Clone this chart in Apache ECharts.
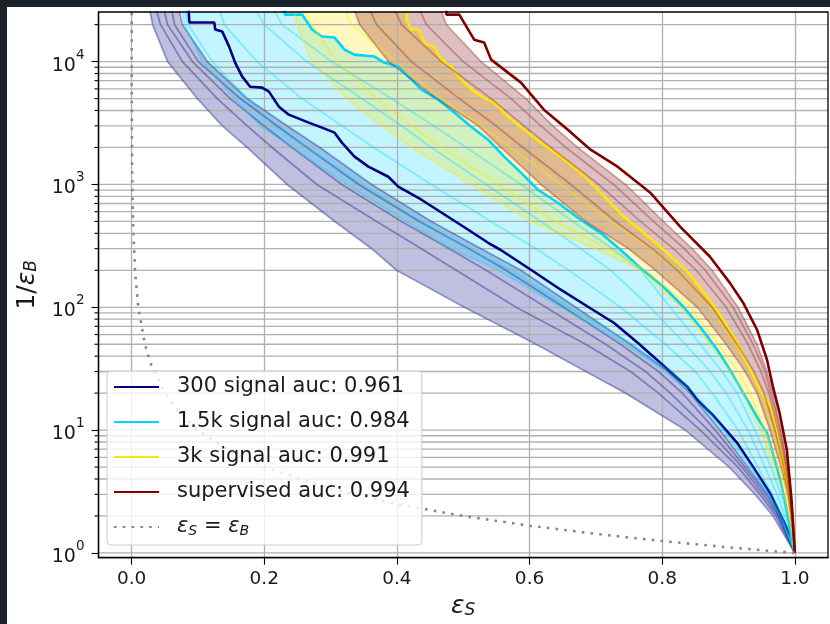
<!DOCTYPE html>
<html>
<head>
<meta charset="utf-8">
<script src="https://cdn.jsdelivr.net/npm/echarts@6/dist/echarts.min.js"></script>
<style>
  html, body { margin: 0; padding: 0; background: #1b2029; }
  #chart { position: absolute; left: 7px; top: 7px; width: 823px; height: 617px; background: #ffffff; }
</style>
</head>
<body>
<div id="chart"></div>
<script>
// Background rejection levels (1/eps_B) at which the individual runs and band edges are sampled
const rejLevels = [30000, 20000, 10000, 5000, 3000, 2000, 1000, 500, 300, 200, 100, 50, 30, 20, 10, 5, 3, 2, 1];

// 300 signal: spread of runs (signal efficiency at each level)
const p300Low  = [0.0255, 0.0315, 0.0541, 0.0991, 0.1366, 0.1742, 0.2342, 0.3063, 0.3619, 0.3994, 0.5015, 0.6096, 0.6847, 0.7447, 0.8348, 0.9009, 0.9399, 0.9670, 1];
const p300RunA = [0.0345, 0.0435, 0.0766, 0.1291, 0.1742, 0.2117, 0.2793, 0.3694, 0.4369, 0.4895, 0.5796, 0.6847, 0.7523, 0.7943, 0.8574, 0.9144, 0.9474, 0.9715, 1];
const p300RunB = [0.0465, 0.0541, 0.0916, 0.1486, 0.1997, 0.2417, 0.3168, 0.4069, 0.4790, 0.5345, 0.6246, 0.7147, 0.7748, 0.8123, 0.8694, 0.9204, 0.9520, 0.9745, 1];
const p300RunC = [0.0586, 0.0646, 0.1006, 0.1637, 0.2192, 0.2643, 0.3423, 0.4339, 0.5090, 0.5646, 0.6517, 0.7372, 0.7943, 0.8303, 0.8799, 0.9249, 0.9565, 0.9760, 1];
const p300High = [0.0691, 0.0766, 0.1141, 0.1742, 0.2342, 0.2838, 0.3619, 0.4520, 0.5270, 0.5871, 0.6697, 0.7523, 0.8093, 0.8423, 0.8874, 0.9294, 0.9595, 0.9775, 1];

// 1.5k signal runs
const c15Low  = [0.0736, 0.0796, 0.1066, 0.1547, 0.1937, 0.2417, 0.3243, 0.4144, 0.4820, 0.5526, 0.6471, 0.7447, 0.8048, 0.8423, 0.8904, 0.9324, 0.9595, 0.9775, 1];
const c15RunD = [0.0781, 0.0856, 0.1216, 0.1742, 0.2147, 0.2643, 0.3468, 0.4369, 0.5060, 0.5721, 0.6592, 0.7553, 0.8123, 0.8483, 0.8934, 0.9354, 0.9610, 0.9790, 1];
const c15RunA = [0.1291, 0.1396, 0.1892, 0.2568, 0.3168, 0.3649, 0.4520, 0.5420, 0.6096, 0.6592, 0.7372, 0.8048, 0.8498, 0.8754, 0.9144, 0.9444, 0.9655, 0.9805, 1];
const c15RunB = [0.1817, 0.1997, 0.2643, 0.3468, 0.4069, 0.4520, 0.5345, 0.6171, 0.6772, 0.7222, 0.7823, 0.8348, 0.8724, 0.8964, 0.9294, 0.9550, 0.9730, 0.9850, 1];
const c15RunC = [0.2087, 0.2267, 0.3018, 0.3919, 0.4550, 0.5045, 0.5871, 0.6652, 0.7252, 0.7673, 0.8123, 0.8574, 0.8904, 0.9129, 0.9399, 0.9640, 0.9790, 0.9895, 1];

// 3k signal runs
const y3kLow  = [0.2417, 0.2492, 0.2718, 0.3243, 0.3769, 0.4219, 0.5120, 0.6021, 0.6997, 0.7673, 0.8273, 0.8724, 0.9024, 0.9219, 0.9474, 0.9685, 0.9835, 0.9910, 1];
const y3kRunA = [0.2568, 0.2718, 0.3093, 0.3694, 0.4219, 0.4670, 0.5526, 0.6396, 0.7177, 0.7748, 0.8423, 0.8844, 0.9144, 0.9324, 0.9550, 0.9745, 0.9880, 0.9940, 1];
const y3kRunB = [0.3168, 0.3318, 0.3994, 0.4670, 0.5270, 0.5721, 0.6471, 0.7222, 0.7823, 0.8243, 0.8724, 0.9099, 0.9354, 0.9505, 0.9670, 0.9805, 0.9910, 0.9955, 1];

// supervised runs
const supLow  = [0.3318, 0.3438, 0.3874, 0.4595, 0.5225, 0.5571, 0.6171, 0.6847, 0.7492, 0.7898, 0.8529, 0.8964, 0.9249, 0.9429, 0.9625, 0.9790, 0.9895, 0.9940, 1];
const supRunA = [0.3544, 0.3694, 0.4219, 0.4940, 0.5495, 0.5901, 0.6622, 0.7297, 0.7853, 0.8228, 0.8754, 0.9129, 0.9384, 0.9535, 0.9700, 0.9835, 0.9910, 0.9955, 1];
const supRunB = [0.3919, 0.4069, 0.4670, 0.5420, 0.5916, 0.6321, 0.7042, 0.7673, 0.8168, 0.8514, 0.8964, 0.9294, 0.9489, 0.9610, 0.9745, 0.9865, 0.9925, 0.9962, 1];
const supRunC = [0.4294, 0.4444, 0.5000, 0.5721, 0.6171, 0.6547, 0.7267, 0.7868, 0.8333, 0.8649, 0.9069, 0.9369, 0.9550, 0.9640, 0.9775, 0.9880, 0.9932, 0.9970, 1];
const supHigh = [0.4625, 0.4745, 0.5270, 0.5946, 0.6351, 0.6727, 0.7447, 0.8018, 0.8453, 0.8754, 0.9144, 0.9429, 0.9580, 0.9670, 0.9790, 0.9895, 0.9940, 0.9970, 1];

// Headline ROC curves: [eps_S, 1/eps_B]
const roc300 = [[0.084, 40000], [0.087, 20800], [0.1246, 20800], [0.126, 18240], [0.1366, 17550], [0.147, 13250], [0.156, 9820], [0.1667, 7550], [0.1787, 6250], [0.1967, 6140], [0.207, 5700], [0.222, 4300], [0.237, 3700], [0.267, 3185], [0.287, 2900], [0.306, 2640], [0.317, 2190], [0.336, 1683], [0.357, 1396], [0.387, 1156], [0.402, 959], [0.437, 751], [0.477, 546], [0.5075, 428], [0.5375, 335], [0.556, 294], [0.602, 202], [0.647, 139], [0.688, 101], [0.727, 74.8], [0.763, 51.4], [0.797, 35.3], [0.838, 22.5], [0.853, 17.6], [0.875, 13.5], [0.913, 7.87], [0.937, 5.02], [0.9625, 3.08], [0.982, 1.86], [0.9955, 1.28], [1, 1]];
const roc1p5k = [[0.231, 40000], [0.231, 24150], [0.257, 24150], [0.272, 18240], [0.287, 16000], [0.306, 15700], [0.321, 12530], [0.336, 11400], [0.366, 11000], [0.381, 9820], [0.402, 9100], [0.422, 7130], [0.437, 5915], [0.4625, 4900], [0.4865, 3845], [0.512, 2954], [0.5375, 2315], [0.5616, 1683], [0.587, 1247], [0.6126, 906], [0.6426, 710], [0.677, 516], [0.707, 404], [0.737, 294], [0.767, 210], [0.802, 147], [0.832, 101], [0.857, 69.4], [0.883, 45.1], [0.902, 31], [0.922, 20.1], [0.943, 12.8], [0.958, 9.5], [0.973, 5.02], [0.985, 2.7], [0.9955, 1.28], [1, 1]];
const roc3k = [[0.4144, 40000], [0.4144, 22000], [0.422, 18240], [0.4324, 18240], [0.4414, 14290], [0.4565, 13000], [0.467, 10380], [0.482, 9100], [0.4925, 7550], [0.5075, 6260], [0.527, 5190], [0.5465, 4635], [0.5676, 3565], [0.5916, 2793], [0.617, 2190], [0.647, 1683], [0.677, 1247], [0.707, 857], [0.742, 546], [0.772, 404], [0.802, 294], [0.838, 195], [0.868, 122], [0.892, 79], [0.913, 51.4], [0.933, 31], [0.950, 20], [0.9655, 15], [0.973, 10], [0.979, 7], [0.985, 5], [0.991, 3], [0.9947, 2], [0.997, 1.5], [1, 1]];
const rocSup = [[0.4745, 40000], [0.4745, 24150], [0.494, 24150], [0.503, 20000], [0.5165, 15100], [0.5315, 14290], [0.542, 10380], [0.5616, 8610], [0.587, 6745], [0.6216, 4065], [0.6577, 2793], [0.692, 1920], [0.7327, 1396], [0.7665, 1000], [0.782, 857], [0.827, 453], [0.872, 258], [0.902, 158], [0.922, 109], [0.943, 65.6], [0.958, 37.4], [0.967, 22.5], [0.977, 13.8], [0.988, 6.9], [0.995, 2.7], [1, 1]];

// Random-classifier reference eps_S = eps_B
const randomRoc = [[0.00004, 25000], [0.0001, 10000], [0.0002, 5000], [0.0005, 2000], [0.001, 1000], [0.002, 500], [0.005, 200], [0.01, 100], [0.02, 50], [0.03, 33.3], [0.05, 20], [0.07, 14.3], [0.1, 10], [0.15, 6.67], [0.2, 5], [0.3, 3.33], [0.4, 2.5], [0.5, 2], [0.6, 1.667], [0.7, 1.429], [0.8, 1.25], [0.9, 1.111], [1, 1]];

// Axis ticks
const xTicks = [0, 0.2, 0.4, 0.6, 0.8, 1.0];
const yMajor = [1, 10, 100, 1000, 10000];
const yMinor = [2, 3, 4, 5, 6, 7, 8, 9, 20, 30, 40, 50, 60, 70, 80, 90, 200, 300, 400, 500, 600, 700, 800, 900,
                2000, 3000, 4000, 5000, 6000, 7000, 8000, 9000, 20000];

const names = ['300 signal auc: 0.961', '1.5k signal auc: 0.984', '3k signal auc: 0.991', 'supervised auc: 0.994', 'eps_line'];
const FONT = 'DejaVu Sans';
const TXT = '#1a1a1a';
const X_MIN = -0.05, X_MAX = 1.05;

const pairs = xs => xs.map((x, i) => [x, rejLevels[i]]);

function band(name, lower, upper, fill) {
  const pts = lower.concat(upper.slice().reverse());
  return {
    name, type: 'custom', z: 1, silent: true, clip: true,
    encode: { x: 0, y: 1 },
    data: [[0.5, 10]],
    renderItem: (params, api) => ({
      type: 'polygon',
      shape: { points: pts.map(p => api.coord(p)) },
      style: { fill }
    })
  };
}

function run(name, xs, color) {
  return {
    name, type: 'line', z: 2, silent: true, symbol: 'none', showSymbol: false,
    clip: true, data: pairs(xs), lineStyle: { color, width: 1.8 }
  };
}

function main(name, data, color) {
  return {
    name, type: 'line', z: 2, silent: true, symbol: 'none', showSymbol: false,
    clip: true, data, color, lineStyle: { color, width: 2.6 }
  };
}

const C300 = '#000080', C15 = '#00d4ff', C3K = '#ffe600', CSUP = '#800000';

const series = [
  band('band300', pairs(p300Low), pairs(p300High), 'rgba(0,0,128,0.25)'),
  band('band1p5k', pairs(c15Low), roc1p5k, 'rgba(0,212,255,0.24)'),
  band('band3k', pairs(y3kLow), roc3k, 'rgba(255,230,0,0.25)'),
  band('bandSup', pairs(supLow), pairs(supHigh), 'rgba(128,0,0,0.25)'),
  {
    // horizontal major + minor grid lines, and minor ticks on the left spine
    name: 'hgrid', type: 'custom', z: 1.5, silent: true, clip: false,
    encode: { x: 0, y: 1 },
    data: yMajor.concat(yMinor).map(v => [0, v]),
    renderItem: (params, api) => {
      const v = api.value(1);
      const a = api.coord([X_MIN, v]);
      const b = api.coord([X_MAX, v]);
      const children = [{
        type: 'line', shape: { x1: a[0], y1: a[1], x2: b[0], y2: b[1] },
        style: { stroke: '#b0b0b0', lineWidth: 1.3 }
      }];
      if (yMinor.indexOf(v) >= 0) {
        children.push({
          type: 'line', shape: { x1: a[0] - 4, y1: a[1], x2: a[0], y2: a[1] },
          style: { stroke: '#000', lineWidth: 1.1 }
        });
      }
      return { type: 'group', children };
    }
  },
  run('r300a', p300Low, 'rgba(0,0,128,0.35)'),
  run('r300b', p300RunA, 'rgba(0,0,128,0.35)'),
  run('r300c', p300RunB, 'rgba(0,0,128,0.35)'),
  run('r300d', p300RunC, 'rgba(0,0,128,0.35)'),
  run('r300e', p300High, 'rgba(0,0,128,0.35)'),
  main(names[0], roc300, C300),
  run('r15a', c15Low, 'rgba(0,212,255,0.35)'),
  run('r15b', c15RunD, 'rgba(0,212,255,0.35)'),
  run('r15c', c15RunA, 'rgba(0,212,255,0.35)'),
  run('r15d', c15RunB, 'rgba(0,212,255,0.35)'),
  run('r15e', c15RunC, 'rgba(0,212,255,0.35)'),
  main(names[1], roc1p5k, C15),
  run('r3a', y3kLow, 'rgba(255,230,0,0.4)'),
  run('r3b', y3kRunA, 'rgba(255,230,0,0.4)'),
  run('r3c', y3kRunB, 'rgba(255,230,0,0.4)'),
  main(names[2], roc3k, C3K),
  run('rsa', supLow, 'rgba(128,0,0,0.3)'),
  run('rsb', supRunA, 'rgba(128,0,0,0.3)'),
  run('rsc', supRunB, 'rgba(128,0,0,0.3)'),
  run('rsd', supRunC, 'rgba(128,0,0,0.3)'),
  run('rse', supHigh, 'rgba(128,0,0,0.3)'),
  main(names[3], rocSup, CSUP),
  {
    name: names[4], type: 'line', z: 2, silent: true, symbol: 'none', showSymbol: false,
    clip: true, data: randomRoc, color: '#888888',
    lineStyle: { color: '#888888', width: 2.6, type: [2.6, 6.2] }
  }
];

const axisNameRich = {
  i: { fontFamily: FONT, fontSize: 25, fontStyle: 'italic', color: TXT },
  s: { fontFamily: FONT, fontSize: 17, fontStyle: 'italic', color: TXT, verticalAlign: 'bottom', padding: [9, 0, 0, 0] }
};

const chart = echarts.init(document.getElementById('chart'), null, { renderer: 'canvas' });
chart.setOption({
  animation: false,
  backgroundColor: '#ffffff',
  grid: { left: 88, top: 5, right: 2, bottom: 66, show: true, z: 3,
          backgroundColor: 'transparent', borderColor: '#000', borderWidth: 1.3 },
  xAxis: {
    type: 'value', min: X_MIN, max: X_MAX, z: 1.5,
    axisLine: { show: true, onZero: false, lineStyle: { color: '#000', width: 1.3 } },
    axisTick: { show: true, customValues: xTicks, length: 7, lineStyle: { color: '#000', width: 1.1 } },
    axisLabel: { customValues: xTicks, margin: 12, fontFamily: FONT, fontSize: 18.5, color: TXT,
                 formatter: v => (Math.abs(v * 5 - Math.round(v * 5)) < 1e-6 ? v.toFixed(1) : '') },
    splitLine: { show: true, lineStyle: { color: '#b0b0b0', width: 1.3 } },
    name: '{i|ε}{s|S}', nameLocation: 'middle', nameGap: 30,
    nameTextStyle: { fontFamily: FONT, fontSize: 25, color: TXT, rich: axisNameRich }
  },
  yAxis: {
    type: 'log', logBase: 10, min: 0.9163, max: 25350, z: 1.5,
    axisLine: { show: true, onZero: false, lineStyle: { color: '#000', width: 1.3 } },
    axisTick: { show: true, customValues: yMajor, length: 7, lineStyle: { color: '#000', width: 1.1 } },
    axisLabel: {
      customValues: yMajor, margin: 14, fontFamily: FONT, fontSize: 19, color: TXT,
      formatter: v => {
        const e = Math.log10(v);
        const r = Math.round(e);
        return Math.abs(e - r) < 1e-6 ? '{b|10}{p|' + r + '}' : '';
      },
      rich: {
        b: { fontFamily: FONT, fontSize: 19, color: TXT, verticalAlign: 'bottom' },
        p: { fontFamily: FONT, fontSize: 13.5, color: TXT, verticalAlign: 'top', lineHeight: 27 }
      }
    },
    splitLine: { show: false },
    name: '1/{i|ε}{s|B}', nameLocation: 'middle', nameGap: 58,
    nameTextStyle: { fontFamily: FONT, fontSize: 25, color: TXT, rich: axisNameRich }
  },
  legend: {
    data: names, orient: 'vertical', left: 100, top: 364, selectedMode: false, z: 5,
    padding: [5, 12, 7, 6], itemWidth: 45, itemHeight: 22, itemGap: 13,
    itemStyle: { opacity: 0 },
    backgroundColor: 'rgba(255,255,255,0.8)', borderColor: '#cccccc', borderWidth: 1, borderRadius: 4,
    formatter: n => (n === names[4] ? '{i|ε}{s|S} = {i|ε}{s|B}' : n),
    textStyle: {
      fontFamily: FONT, fontSize: 21, color: TXT, lineHeight: 22, padding: [0, 0, 0, 13],
      rich: {
        i: { fontFamily: FONT, fontSize: 21, fontStyle: 'italic', color: TXT },
        s: { fontFamily: FONT, fontSize: 14, fontStyle: 'italic', color: TXT, verticalAlign: 'bottom', padding: [8, 0, 0, 0] }
      }
    }
  },
  series
});
</script>
</body>
</html>
